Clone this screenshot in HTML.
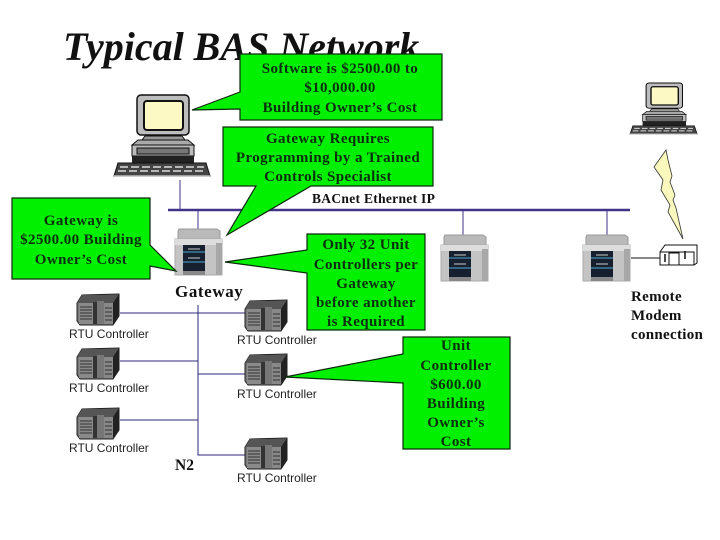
<!DOCTYPE html>
<html><head><meta charset="utf-8"><style>
html,body{margin:0;padding:0;background:#fff}
svg{display:block}
.c{font-family:"Liberation Serif",serif;font-weight:bold;font-size:15px;fill:#0a300a;text-anchor:middle;letter-spacing:.4px}
.r{font-family:"Liberation Sans",sans-serif;font-size:12px;fill:#222}
.b{font-family:"Liberation Serif",serif;font-weight:bold;fill:#111}
</style></head><body>
<svg width="720" height="540" viewBox="0 0 720 540" xmlns="http://www.w3.org/2000/svg">
<defs>
<g id="pc">
<rect x="23" y="0" width="52" height="40" rx="4" fill="#bdbdbd" stroke="#111" stroke-width="1.5"/>
<rect x="30" y="6" width="39" height="29" rx="3" fill="#fdf9c4" stroke="#111" stroke-width="2"/>
<path d="M28 45l3-4h37l3 4z" fill="#999" stroke="#111"/>
<path d="M24 45h50l6 5H18z" fill="#aaa" stroke="#111"/>
<rect x="18" y="50" width="62" height="11" fill="#bbb" stroke="#111"/>
<rect x="23" y="53" width="52" height="6" fill="#777" stroke="#111"/>
<rect x="18" y="61" width="62" height="7" fill="#222"/>
<path d="M4 68h88l4 13H0z" fill="#444" stroke="#111"/>
<path d="M6 72h84M4 76h88" stroke="#ddd" stroke-width="1.5" stroke-dasharray="8 3"/>
<path d="M0 81h96" stroke="#bbb" stroke-width="1.5"/>
</g>
<g id="gw">
<path d="M4 1h38l3 2v10H3V3z" fill="#b9b9b9" stroke="#999"/>
<rect x="0" y="11" width="47" height="36" fill="#c4c4c4" stroke="#aaa"/>
<path d="M0 11h47v6H0z" fill="#ddd"/>
<rect x="8" y="17" width="22" height="30" fill="#16202e"/>
<path d="M8 24h22M8 34h22" stroke="#3d7a9c" stroke-width="1.5"/>
<path d="M13 21h12M13 30h12" stroke="#ccc"/>
<rect x="8" y="43" width="22" height="4" fill="#888"/>
<rect x="41" y="15" width="6" height="32" fill="#a8a8a8"/>
</g>
<g id="rtu">
<path d="M0 9l5-8 37-1v22l-6 9H3L0 27z" fill="#777" stroke="#222"/>
<path d="M0 9l5-8h37l-6 8z" fill="#555"/>
<path d="M36 9l6-9v22l-6 9z" fill="#222"/>
<rect x="2" y="9" width="14" height="21" fill="#8a8a8a"/>
<path d="M3 13h12M3 16h12M3 19h12M3 22h12M3 25h12" stroke="#333"/>
<rect x="16" y="8" width="4" height="22" fill="#333"/>
<rect x="20" y="7" width="7" height="23" fill="#777"/>
<rect x="27" y="9" width="9" height="21" fill="#888"/>
<path d="M28 14h7M28 18h7M28 22h7M28 26h7" stroke="#333"/>
</g>
</defs>

<text x="63" y="60" class="b" font-style="italic" font-size="40">Typical BAS Network</text>

<g stroke="#42328a" fill="none">
<path d="M168 210H630" stroke-width="2.4"/>
<path d="M180 180V210M198 210V236M463 210V236M607 210V236" stroke-width="1"/>
<path d="M198 305V455H245M120 313H246M120 361H198M198 374H246M120 420H198" stroke="#2e2a78" stroke-width="1"/>
</g>
<path d="M631 258H660" stroke="#111"/>

<use href="#pc" x="114" y="95"/>
<g transform="translate(630,83) scale(.7,.63)"><use href="#pc"/></g>

<use href="#gw" x="175" y="228"/>
<use href="#gw" x="441" y="234"/>
<use href="#gw" x="583" y="234"/>

<use href="#rtu" x="77" y="294"/>
<use href="#rtu" x="77" y="348"/>
<use href="#rtu" x="77" y="408"/>
<use href="#rtu" x="245" y="300"/>
<use href="#rtu" x="245" y="354"/>
<use href="#rtu" x="245" y="438"/>

<text x="69" y="338" class="r">RTU Controller</text>
<text x="69" y="392" class="r">RTU Controller</text>
<text x="69" y="452" class="r">RTU Controller</text>
<text x="237" y="344" class="r">RTU Controller</text>
<text x="237" y="398" class="r">RTU Controller</text>
<text x="237" y="482" class="r">RTU Controller</text>

<text x="175" y="297" class="b" font-size="17" letter-spacing=".6">Gateway</text>
<text x="175" y="470" class="b" font-size="15.5">N2</text>

<polygon points="666,150 654,167 663,180 661,190 670,205 668,212 683,239 676,208 673,200 675,195 670,182 672,176 668,160" fill="#fbf8bd" stroke="#333" stroke-width=".8"/>
<g fill="#fff" stroke="#111">
<path d="M660 252l5-7h32v18l-3 2h-34z"/>
<path d="M660 252h34v13" fill="none"/>
<rect x="669" y="253" width="10" height="12"/>
<path d="M665 254v8M685 251v8" stroke-width="1.5"/>
</g>

<g fill="#00f000" stroke="#0a2a0a" stroke-width="1.2" stroke-linejoin="miter">
<polygon points="240,54 442,54 442,120 240,120 240,109 192,110 240,92"/>
<polygon points="223,127 433,127 433,186 311,186 227,235 256,186 223,186"/>
<polygon points="12,198 150,198 150,245 176,271 150,266 150,279 12,279"/>
<polygon points="307,234 425,234 425,330 307,330 307,273 225,262 307,250"/>
<polygon points="403,337 510,337 510,449 403,449 403,383 285,377 403,354"/>
</g>

<text class="c" x="340" y="73">Software is $2500.00 to</text>
<text class="c" x="340" y="92">$10,000.00</text>
<text class="c" x="340" y="112">Building Owner’s Cost</text>

<text class="c" x="328" y="143">Gateway Requires</text>
<text class="c" x="328" y="162">Programming by a Trained</text>
<text class="c" x="328" y="181">Controls Specialist</text>

<text class="c" x="81" y="225">Gateway is</text>
<text class="c" x="81" y="244">$2500.00 Building</text>
<text class="c" x="81" y="264">Owner’s Cost</text>

<text class="c" x="366" y="249">Only 32 Unit</text>
<text class="c" x="366" y="269">Controllers per</text>
<text class="c" x="366" y="288">Gateway</text>
<text class="c" x="366" y="307">before another</text>
<text class="c" x="366" y="326">is Required</text>

<text class="c" x="456" y="350">Unit</text>
<text class="c" x="456" y="370">Controller</text>
<text class="c" x="456" y="389">$600.00</text>
<text class="c" x="456" y="408">Building</text>
<text class="c" x="456" y="427">Owner’s</text>
<text class="c" x="456" y="446">Cost</text>

<text x="312" y="203" class="b" font-size="13.5" letter-spacing=".3">BACnet Ethernet IP</text>

<g class="b" font-size="15" fill="#222" letter-spacing=".3">
<text x="631" y="301">Remote</text>
<text x="631" y="320">Modem</text>
<text x="631" y="339">connection</text>
</g>
</svg>
</body></html>
